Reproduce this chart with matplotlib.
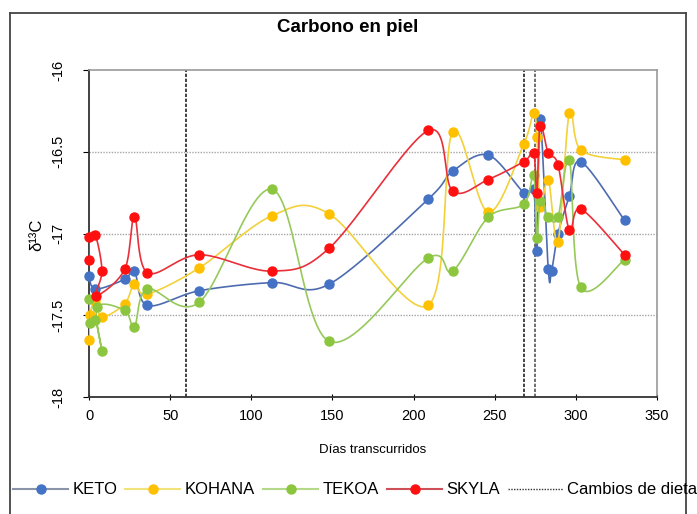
import numpy as np
import matplotlib
matplotlib.use('Agg')
import matplotlib.pyplot as plt
from matplotlib.lines import Line2D

plt.rcParams['font.family'] = ['Liberation Sans', 'DejaVu Sans']

# --- data (days, delta13C) ---
keto_days = [0, 4, 22, 28, 36, 68, 113, 148, 209, 224, 246, 268, 274, 276, 278,
             283, 285, 289, 296, 303, 330]
keto_vals = [-17.26, -17.34, -17.28, -17.23, -17.44, -17.35, -17.30, -17.31, -16.79,
             -16.62, -16.52, -16.75, -16.73, -17.11, -16.30, -17.22, -17.23, -17.00,
             -16.77, -16.56, -16.92]

kohana_days = [0, 0.5, 4, 8, 22, 28, 36, 68, 113, 148, 209, 224, 246, 268, 274, 276,
               278, 283, 289, 296, 303, 330]
kohana_vals = [-17.65, -17.50, -17.41, -17.51, -17.43, -17.31, -17.37, -17.21, -16.89,
               -16.88, -17.44, -16.38, -16.87, -16.45, -16.26, -16.41, -16.84, -16.67,
               -17.05, -16.26, -16.49, -16.55]

tekoa_days = [0, 0.5, 4, 8, 5, 22, 28, 36, 68, 113, 148, 209, 224, 246, 268, 274, 276,
              278, 283, 289, 296, 303, 330]
tekoa_vals = [-17.40, -17.55, -17.53, -17.72, -17.45, -17.47, -17.57, -17.34, -17.42,
              -16.73, -17.66, -17.15, -17.23, -16.90, -16.82, -16.64, -17.03, -16.80,
              -16.90, -16.90, -16.55, -17.33, -17.16]

skyla_days = [0, 0.3, 4, 8, 4.5, 22, 28, 36, 68, 113, 148, 209, 224, 246, 268, 274,
              276, 278, 283, 289, 296, 303, 330]
skyla_vals = [-17.16, -17.02, -17.01, -17.23, -17.38, -17.22, -16.90, -17.24, -17.13,
              -17.23, -17.09, -16.37, -16.74, -16.67, -16.56, -16.51, -16.75, -16.34,
              -16.51, -16.58, -16.98, -16.85, -17.13]

diet_changes = [60, 268, 275]
series_names = ['KETO', 'KOHANA', 'TEKOA', 'SKYLA']

W, H = 697, 514
fig = plt.figure(figsize=(W / 100, H / 100), dpi=100)
ax = fig.add_axes([89 / W, 1 - 397 / H, (657 - 89) / W, (397 - 70) / H])
ax.set_xlim(0, 350)
ax.set_ylim(-18, -16)


def smooth(xs, ys, n=24):
    # excel-like smoothed line, built in pixel space
    pts = ax.transData.transform(np.column_stack([xs, ys]))
    out = [pts[0]]
    t = np.linspace(0, 1, n)[1:, None]
    for i in range(len(pts) - 1):
        p0 = pts[max(i - 1, 0)]
        p1 = pts[i]
        p2 = pts[i + 1]
        p3 = pts[min(i + 2, len(pts) - 1)]
        c1 = p1 + (p2 - p0) / 6
        c2 = p2 - (p3 - p1) / 6
        seg = (1 - t) ** 3 * p1 + 3 * (1 - t) ** 2 * t * c1 + 3 * (1 - t) * t ** 2 * c2 + t ** 3 * p2
        out.extend(seg)
    res = ax.transData.inverted().transform(np.array(out))
    return res[:, 0], res[:, 1]


for yv in [-16.5, -17, -17.5]:
    ax.axhline(yv, color='#a6a6a6', lw=1, ls=(0, (1, 1)), zorder=1)

for d in diet_changes:
    col = '#222222' if d != 275 else '#555555'
    ax.axvline(d, color=col, lw=1.2, ls=(0, (2, 1)), zorder=2)

line_cols = ['#4d6cb0', '#f2d13a', '#96c95a', '#e8303a']
mark_cols = ['#4472C4', '#FFC000', '#8CC63F', '#FF1010']
data = [(keto_days, keto_vals), (kohana_days, kohana_vals),
        (tekoa_days, tekoa_vals), (skyla_days, skyla_vals)]

for i, (dx, dy) in enumerate(data):
    sx, sy = smooth(dx, dy)
    ax.plot(sx, sy, color=line_cols[i], lw=1.2, zorder=3 + i)
    ax.plot(dx, dy, 'o', color=mark_cols[i], ms=6.5, mec=mark_cols[i], zorder=3 + i,
            clip_on=False)

ax.set_xticks(range(0, 351, 50))
ax.set_yticks([-18, -17.5, -17, -16.5, -16])
ax.set_yticklabels(['-18', '-17.5', '-17', '-16.5', '-16'], rotation=90, va='center')
ax.tick_params(axis='x', direction='inout', length=5, labelsize=10.5, pad=6)
ax.tick_params(axis='y', direction='out', length=4, labelsize=10.5, pad=18)
for lab in ax.get_yticklabels():
    lab.set_ha('center')
for s in ['left', 'bottom']:
    ax.spines[s].set_color('#333333')
    ax.spines[s].set_linewidth(1.3)
for s in ['top', 'right']:
    ax.spines[s].set_color('#9a9a9a')
    ax.spines[s].set_linewidth(1.2)

fig.text(348 / W, 1 - 28 / H, 'Carbono en piel', ha='center', va='center',
         fontsize=13.5, fontweight='bold')
fig.text(37 / W, 1 - 235 / H, 'δ¹³C', ha='center', va='center', rotation=90, fontsize=12)
fig.text(373 / W, 1 - 450 / H, 'Días transcurridos', ha='center', va='center', fontsize=9.5)

# outer frame
frame_kw = dict(color='#444444', lw=1.3, transform=fig.transFigure)
fig.add_artist(Line2D([10 / W, 10 / W], [0, 1 - 13 / H], **frame_kw))
fig.add_artist(Line2D([10 / W, 686 / W], [1 - 13 / H, 1 - 13 / H], **frame_kw))
fig.add_artist(Line2D([686 / W, 686 / W], [0, 1 - 13 / H], **frame_kw))

leg_line_cols = ['#8a93a8', '#f2e27a', '#b4d98a', '#d0505a']
handles = [Line2D([], [], color=leg_line_cols[i], lw=1.5, marker='o', ms=6.5,
                  mfc=mark_cols[i], mec=mark_cols[i]) for i in range(4)]
handles.append(Line2D([], [], color='#333333', lw=1, ls=(0, (1, 1))))
fig.legend(handles, series_names + ['Cambios de dieta'], loc='center left',
           bbox_to_anchor=(13 / W, 1 - 490 / H), ncol=5, frameon=False, fontsize=12,
           handlelength=3.3, handletextpad=0.25, columnspacing=0.5, borderpad=0,
           borderaxespad=0)

fig.savefig('out.png', dpi=100)
